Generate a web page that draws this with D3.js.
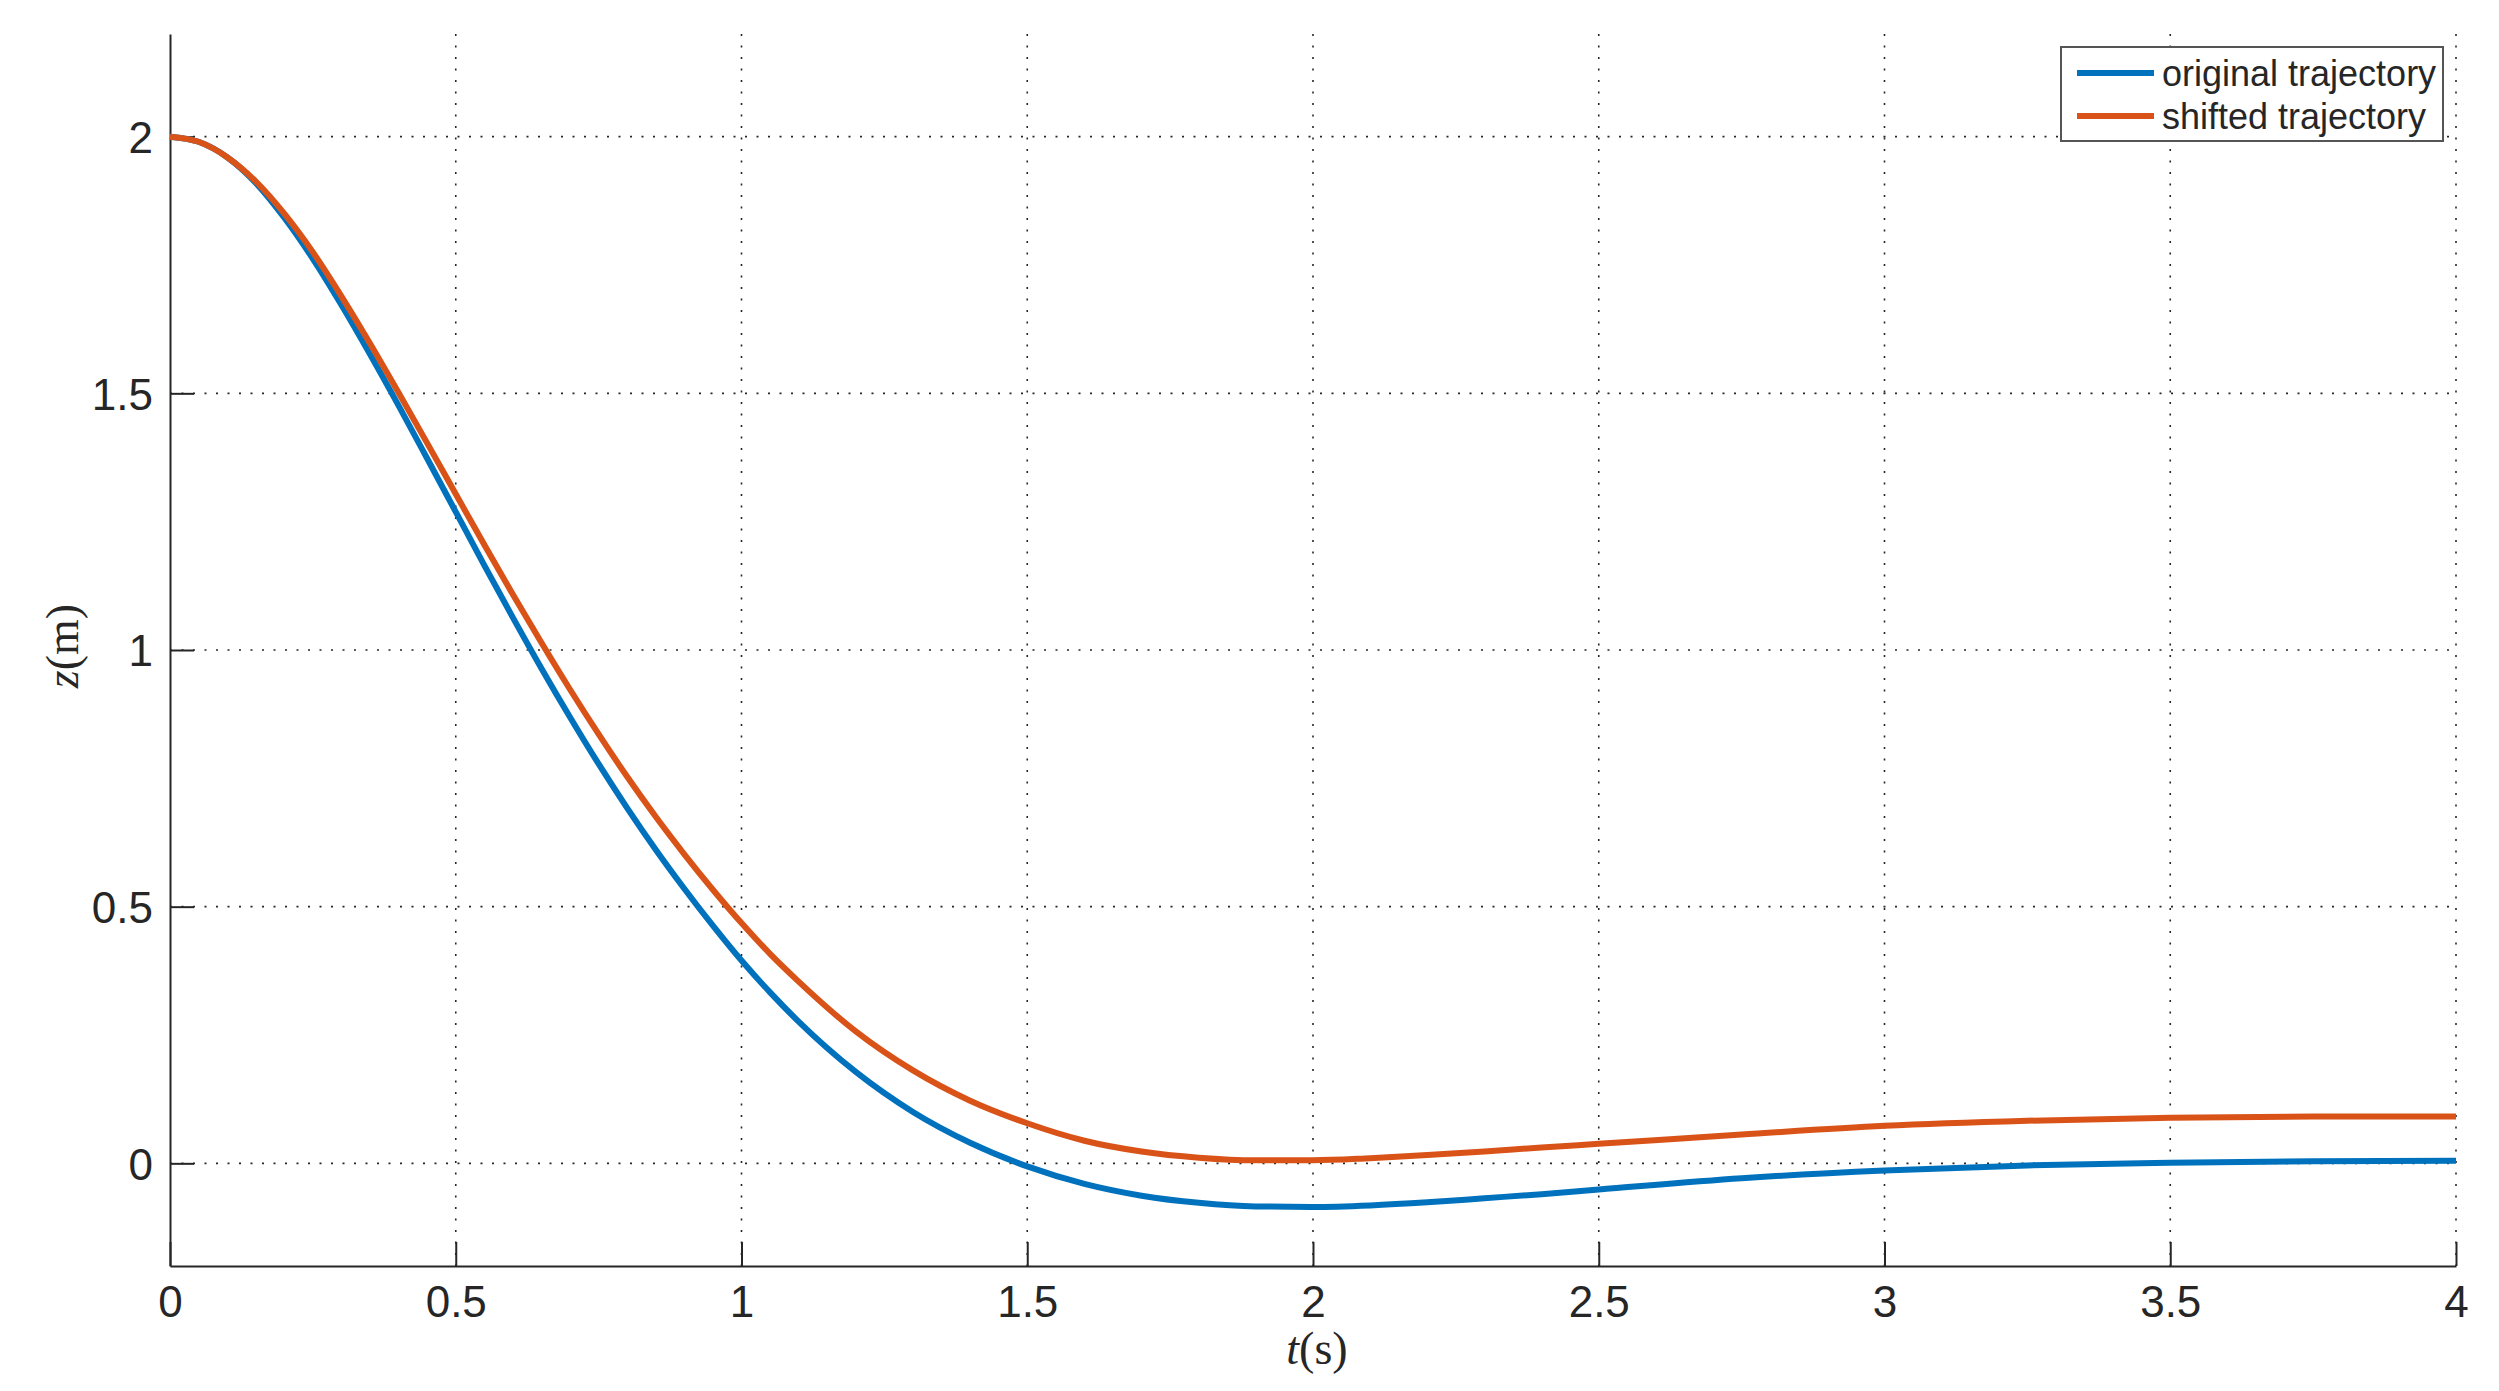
<!DOCTYPE html>
<html>
<head>
<meta charset="utf-8">
<script src="https://cdn.jsdelivr.net/npm/d3@7"></script>
<style>
  body { margin: 0; background: #fff; }
  text { font-family: "Liberation Sans", Arial, sans-serif; fill: #262626; }
</style>
</head>
<body>
<div id="chart"></div>
<script>
// sample times (s)
var tValues = [0, 0.05, 0.1, 0.15, 0.2, 0.25, 0.3, 0.35, 0.4, 0.45, 0.5, 0.55, 0.6, 0.65, 0.7,
  0.75, 0.8, 0.85, 0.9, 0.95, 1.0, 1.05, 1.1, 1.2, 1.3, 1.4, 1.5, 1.6, 1.7, 1.8, 1.9, 2.0,
  2.1, 2.2, 2.3, 2.4, 2.5, 2.75, 3.0, 3.25, 3.5, 3.75, 4.0];

// original trajectory z(m)
var originalZ = [2.0, 1.99, 1.96, 1.91, 1.842, 1.762, 1.672, 1.576, 1.476, 1.373, 1.269, 1.165, 1.063, 0.964, 0.869,
  0.778, 0.692, 0.611, 0.535, 0.463, 0.395, 0.333, 0.276, 0.178, 0.1, 0.04, -0.006, -0.04, -0.063, -0.077, -0.084, -0.085,
  -0.082, -0.076, -0.068, -0.06, -0.051, -0.029, -0.014, -0.004, 0.001, 0.004, 0.005];

// shifted trajectory z(m)
var shiftedZ = [2.0, 1.99, 1.96, 1.913, 1.85, 1.775, 1.689, 1.597, 1.501, 1.403, 1.304, 1.205, 1.108, 1.014, 0.923,
  0.836, 0.753, 0.675, 0.602, 0.533, 0.468, 0.408, 0.354, 0.257, 0.181, 0.122, 0.078, 0.044, 0.023, 0.011, 0.006, 0.006,
  0.01, 0.016, 0.023, 0.031, 0.038, 0.056, 0.073, 0.083, 0.089, 0.091, 0.091];

var seriesNames = ["original trajectory", "shifted trajectory"];
var seriesColors = ["#0072BD", "#D95319"];

var xTicks = [0, 0.5, 1, 1.5, 2, 2.5, 3, 3.5, 4];
var yTicks = [0, 0.5, 1, 1.5, 2];

var W = 2499, H = 1391;
var margin = {top: 34, right: 43, bottom: 125, left: 170},
  width = W - margin.left - margin.right,
  height = H - margin.top - margin.bottom;

var xScale = d3.scaleLinear().domain([0, 4]).range([0, width]);
var yScale = d3.scaleLinear().domain([-0.2, 2.2]).range([height, 0]);

var svg = d3.select("#chart").append("svg")
  .attr("width", W)
  .attr("height", H);

svg.append("rect").attr("width", W).attr("height", H).attr("fill", "#fff");

var g = svg.append("g")
  .attr("transform", "translate(" + margin.left + "," + margin.top + ")");

// dotted grid
g.selectAll("line.gx")
  .data(xTicks.filter(d => d > 0))
  .enter().append("line")
  .attr("class", "gx")
  .attr("x1", d => xScale(d)).attr("x2", d => xScale(d))
  .attr("y1", 0).attr("y2", height)
  .attr("stroke", "#262626")
  .attr("stroke-width", 1.6)
  .attr("stroke-dasharray", "2,9.5");

g.selectAll("line.gy")
  .data(yTicks)
  .enter().append("line")
  .attr("class", "gy")
  .attr("x1", 0).attr("x2", width)
  .attr("y1", d => yScale(d)).attr("y2", d => yScale(d))
  .attr("stroke", "#262626")
  .attr("stroke-width", 1.6)
  .attr("stroke-dasharray", "2,9.5");

// axes, ticks pointing inward
var xAxis = g.append("g")
  .attr("transform", "translate(0," + height + ")")
  .call(d3.axisBottom(xScale).tickValues(xTicks).tickSizeInner(-24).tickSizeOuter(0)
    .tickPadding(19).tickFormat(d3.format("")));

var yAxis = g.append("g")
  .call(d3.axisLeft(yScale).tickValues(yTicks).tickSizeInner(-24).tickSizeOuter(0)
    .tickPadding(17).tickFormat(d3.format("")));

[xAxis, yAxis].forEach(function(ax) {
  ax.select(".domain").attr("stroke", "#262626").attr("stroke-width", 2);
  ax.selectAll(".tick line").attr("stroke", "#262626").attr("stroke-width", 2);
  ax.selectAll(".tick text")
    .style("font-family", "'Liberation Sans', Arial, sans-serif")
    .style("font-size", "44px")
    .attr("fill", "#262626");
});
xAxis.selectAll(".tick text").attr("dy", "0.72em");
yAxis.selectAll(".tick text").attr("dy", "0.36em");

// trajectories
var line = d3.line()
  .x(d => xScale(d[0]))
  .y(d => yScale(d[1]))
  .curve(d3.curveMonotoneX);

[originalZ, shiftedZ].forEach(function(zs, i) {
  g.append("path")
    .datum(tValues.map((t, k) => [t, zs[k]]))
    .attr("d", line)
    .attr("fill", "none")
    .attr("stroke", seriesColors[i])
    .attr("stroke-width", 6)
    .attr("stroke-linejoin", "round");
});

// axis labels (LaTeX style)
var xlab = svg.append("text")
  .attr("x", 1317)
  .attr("y", 1364)
  .attr("text-anchor", "middle")
  .style("font-family", "'Liberation Serif', 'DejaVu Serif', serif")
  .style("font-size", "46px")
  .attr("fill", "#3a3a3a");
xlab.append("tspan").style("font-style", "italic").text("t");
xlab.append("tspan").text("(s)");

var ylab = svg.append("text")
  .attr("transform", "translate(78,646) rotate(-90)")
  .attr("text-anchor", "middle")
  .style("font-family", "'Liberation Serif', 'DejaVu Serif', serif")
  .style("font-size", "46px")
  .attr("fill", "#3a3a3a");
ylab.append("tspan").style("font-style", "italic").text("z");
ylab.append("tspan").text("(m)");

// legend
var legend = svg.append("g");
legend.append("rect")
  .attr("x", 2061).attr("y", 47)
  .attr("width", 382).attr("height", 94)
  .attr("fill", "#fff")
  .attr("stroke", "#555")
  .attr("stroke-width", 2);

seriesNames.forEach(function(name, i) {
  var ly = 73 + i * 43;
  legend.append("line")
    .attr("x1", 2077).attr("x2", 2154)
    .attr("y1", ly).attr("y2", ly)
    .attr("stroke", seriesColors[i])
    .attr("stroke-width", 6);
  legend.append("text")
    .attr("x", 2162).attr("y", ly)
    .attr("dy", "0.35em")
    .style("font-size", "36px")
    .text(name);
});
</script>
</body>
</html>
